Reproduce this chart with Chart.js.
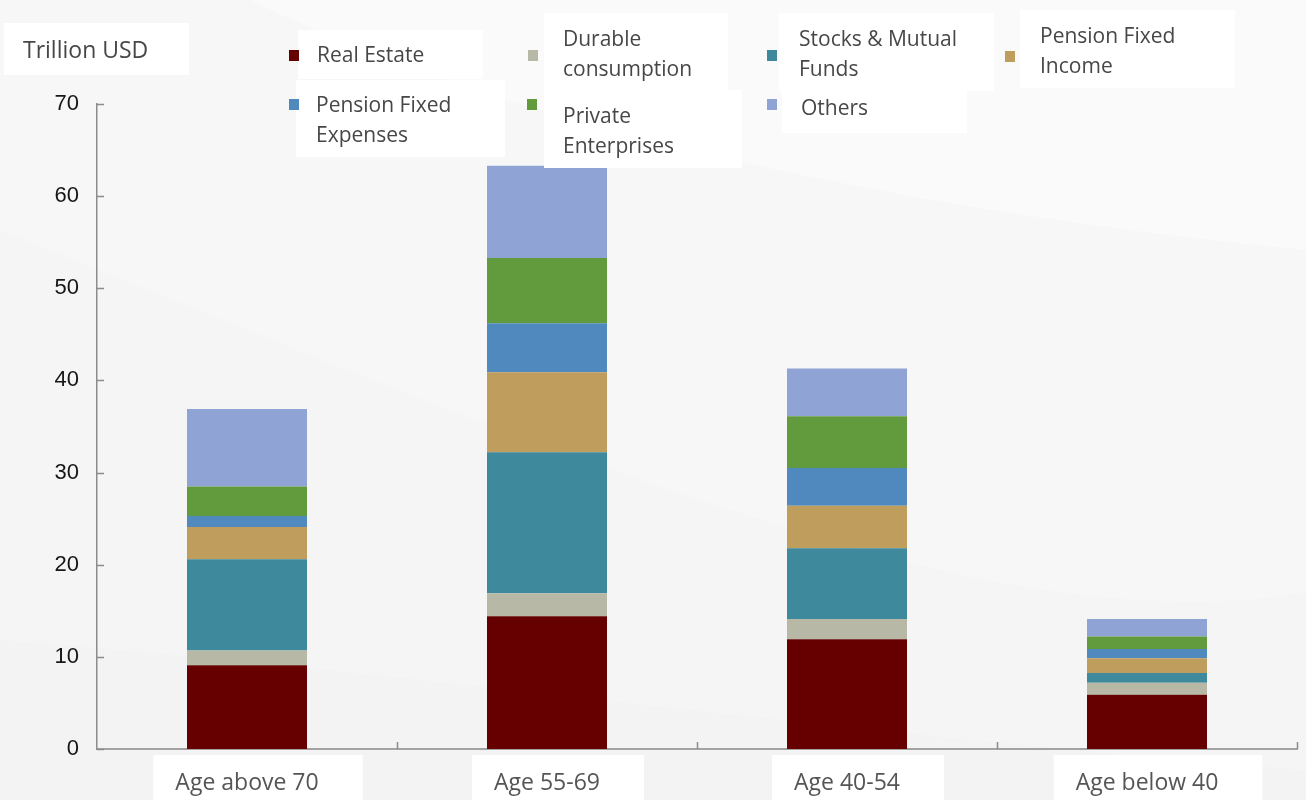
<!DOCTYPE html>
<html>
<head>
<meta charset="utf-8">
<script src="https://cdn.jsdelivr.net/npm/chart.js@4"></script>
<style>
  html, body { margin: 0; padding: 0; }
  body { width: 1306px; height: 800px; overflow: hidden; position: relative; background: #f7f7f8; }
  #bg { position: absolute; left: 0; top: 0; }
  #chart { position: absolute; left: 0; top: 0; }
  .box { position: absolute; background: #ffffff; }
  .lbl { position: absolute; font-family: "Open Sans", sans-serif; font-size: 21px; line-height: 30px; color: #474747; white-space: nowrap; }
  .mk { position: absolute; width: 10px; height: 11px; }
  #unit { font-size: 23px; }
</style>
</head>
<body>
<svg id="bg" width="1306" height="800" xmlns="http://www.w3.org/2000/svg">
  <rect width="1306" height="800" fill="#f7f7f8"/>
  <path d="M250,0 C520,130 900,210 1306,250 L1306,0 Z" fill="#fafafa"/>
  <path d="M0,230 C300,350 600,480 900,560 C1050,600 1200,612 1306,592 L1306,800 L0,800 Z" fill="#f5f5f6"/>
  <path d="M0,640 C400,670 800,730 1306,770 L1306,800 L0,800 Z" fill="#f3f3f4"/>
</svg>
<canvas id="chart" width="1306" height="800"></canvas>
<div id="legend"></div>
<script>
// Household wealth by age group, trillion USD (stacked from the bottom up)
const categories = ['Age above 70', 'Age 55-69', 'Age 40-54', 'Age below 40'];
const seriesNames = ['Real Estate', 'Durable consumption', 'Stocks & Mutual Funds', 'Pension Fixed Income',
                     'Pension Fixed Expenses', 'Private Enterprises', 'Others'];
const realEstate      = [9.1, 14.4, 11.9, 5.9];
const durable         = [1.6, 2.5, 2.2, 1.3];
const stocksFunds     = [9.9, 15.3, 7.7, 1.05];
const pensionIncome   = [3.5, 8.7, 4.6, 1.6];
const pensionExpenses = [1.2, 5.3, 4.1, 1.0];
const privateEnt      = [3.2, 7.1, 5.6, 1.35];
const others          = [8.4, 10.0, 5.2, 1.9];
const yTicks = [0, 10, 20, 30, 40, 50, 60, 70];

const seriesValues = [realEstate, durable, stocksFunds, pensionIncome, pensionExpenses, privateEnt, others];
const seriesColors = ['#660000', '#b8b8a6', '#3e899b', '#bf9d5c', '#4f89bd', '#629a3e', '#8fa3d4'];

// Legend entries: white panel, square marker and (possibly wrapped) text
const legendLayout = [
  { box: [298, 30, 185, 49],  mk: [289, 50],  txt: [317, 39],  lines: ['Real Estate'] },
  { box: [544, 13, 184, 77],  mk: [528, 50],  txt: [563, 23],  lines: ['Durable', 'consumption'] },
  { box: [779, 13, 215, 78],  mk: [767, 50],  txt: [799, 23],  lines: ['Stocks & Mutual', 'Funds'] },
  { box: [1020, 10, 215, 78], mk: [1005, 51], txt: [1040, 20], lines: ['Pension Fixed', 'Income'] },
  { box: [296, 80, 209, 77],  mk: [289, 99],  txt: [316, 89],  lines: ['Pension Fixed', 'Expenses'] },
  { box: [544, 90, 198, 78],  mk: [527, 99],  txt: [563, 100], lines: ['Private', 'Enterprises'] },
  { box: [782, 91, 185, 42],  mk: [767, 99],  txt: [801, 92],  lines: ['Others'] }
];

const legend = document.getElementById('legend');
function addEl(cls, x, y, w, h, extra) {
  const d = document.createElement('div');
  d.className = cls;
  d.style.left = x + 'px';
  d.style.top = y + 'px';
  if (w != null) d.style.width = w + 'px';
  if (h != null) d.style.height = h + 'px';
  if (extra) extra(d);
  legend.appendChild(d);
  return d;
}
// unit caption
addEl('box', 4, 23, 185, 52);
addEl('lbl', 23, 34, null, null, d => { d.id = 'unit'; d.textContent = 'Trillion USD'; });
legendLayout.forEach((L, i) => {
  addEl('box', L.box[0], L.box[1], L.box[2], L.box[3]);
  addEl('mk', L.mk[0], L.mk[1], null, null, d => { d.style.background = seriesColors[i]; });
  addEl('lbl', L.txt[0], L.txt[1], null, null, d => { d.innerHTML = L.lines.join('<br>'); });
});

// Short inward tick marks on both axes
const innerTicks = {
  id: 'innerTicks',
  afterDatasetsDraw(chart) {
    const ctx = chart.ctx;
    const xs = chart.scales.x, ys = chart.scales.y;
    ctx.save();
    ctx.strokeStyle = '#8c8c8c';
    ctx.lineWidth = 1.5;
    ctx.beginPath();
    ys.ticks.forEach(t => {
      const y = Math.round(ys.getPixelForValue(t.value)) + 0.5;
      ctx.moveTo(ys.right, y);
      ctx.lineTo(ys.right + 7, y);
    });
    const step = xs.getPixelForValue(1) - xs.getPixelForValue(0);
    for (let i = 1; i <= categories.length; i++) {
      const x = Math.round(xs.getPixelForValue(i) - step / 2) + 0.5;
      ctx.moveTo(x, xs.top);
      ctx.lineTo(x, xs.top - 7);
    }
    ctx.stroke();
    ctx.restore();
  }
};

new Chart(document.getElementById('chart'), {
  type: 'bar',
  data: {
    labels: categories,
    datasets: seriesNames.map((name, i) => ({
      label: name,
      data: seriesValues[i],
      backgroundColor: seriesColors[i],
      borderWidth: 0,
      categoryPercentage: 1.0,
      barPercentage: 0.4
    }))
  },
  options: {
    responsive: false,
    devicePixelRatio: 1,
    animation: false,
    layout: { padding: { left: 0, right: 9, top: 104, bottom: 0 } },
    plugins: { legend: { display: false }, tooltip: { enabled: false } },
    scales: {
      x: {
        stacked: true,
        grid: { display: false, drawTicks: false },
        border: { display: true, color: '#a3a3a3', width: 2 },
        ticks: {
          padding: 21,
          color: '#555555',
          font: { family: 'Open Sans', size: 23, lineHeight: 1.2 },
          showLabelBackdrop: true,
          backdropColor: '#ffffff',
          backdropPadding: { top: 15, bottom: 30, left: 22, right: 44 },
          maxRotation: 0
        },
        afterFit(scale) { scale.height = 51; }
      },
      y: {
        stacked: true,
        min: 0,
        max: 70,
        afterBuildTicks(scale) { scale.ticks = yTicks.map(v => ({ value: v })); },
        grid: { display: false, drawTicks: false },
        border: { display: true, color: '#8c8c8c', width: 1.5 },
        ticks: {
          padding: 18,
          color: '#161616',
          font: { family: 'Liberation Sans', size: 22 }
        },
        afterFit(scale) { scale.width = 97; }
      }
    }
  },
  plugins: [innerTicks]
});
</script>
</body>
</html>
